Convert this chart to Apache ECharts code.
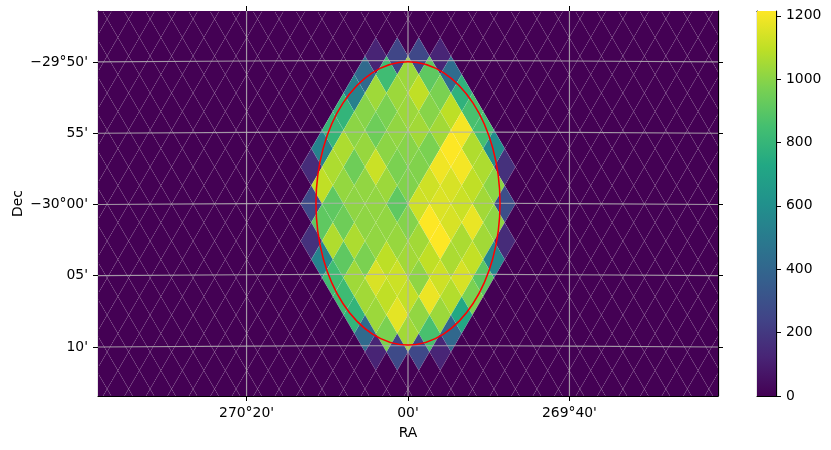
<!DOCTYPE html>
<html><head><meta charset="utf-8">
<style>html,body{margin:0;padding:0;background:#fff}#c{width:831px;height:450px}</style>
<script src="https://cdn.jsdelivr.net/npm/echarts@6/dist/echarts.min.js"></script>
</head><body><div id="c"></div>
<script>
// Sky-map cell values, one list per lattice row (north to south); each list is centred on RA 270°
const row_m8 = [120, 250, 260, 125];
const row_m7 = [420, 835, 1033, 911, 430];
const row_m6 = [530, 1040, 1033, 1100, 972, 778];
const row_m5 = [790, 996, 972, 1033, 996, 1093, 860];
const row_m4 = [800, 1005, 942, 1015, 1045, 1045, 1198, 850];
const row_m3 = [540, 1065, 1025, 1005, 996, 972, 1215, 1070, 590];
const row_m2 = [150, 1065, 945, 1118, 972, 985, 1190, 1198, 1065, 170];
const row_m1 = [1100, 1020, 1015, 1033, 985, 1125, 1142, 1100, 1005];
const row_0  = [270, 911, 1010, 1015, 911, 1125, 1150, 1118, 1045, 290];
const row_p1 = [911, 945, 1010, 1015, 990, 1215, 1142, 1178, 1010];
const row_p2 = [170, 1070, 1065, 1015, 1025, 1045, 1215, 1060, 1045, 150];
const row_p3 = [540, 911, 972, 1093, 1045, 1100, 1060, 1105, 560];
const row_p4 = [835, 1040, 1146, 1120, 1010, 1125, 1142, 905];
const row_p5 = [830, 1045, 1100, 1105, 1182, 1075, 972];
const row_p6 = [790, 1033, 1168, 1015, 1033, 729];
const row_p7 = [420, 972, 1045, 860, 410];
const row_p8 = [120, 270, 260, 125];
const rows = [row_m8,row_m7,row_m6,row_m5,row_m4,row_m3,row_m2,row_m1,row_0,row_p1,row_p2,row_p3,row_p4,row_p5,row_p6,row_p7,row_p8];

const raTicks = [270.3333, 270, 269.6667];
const raLabels = ["270°20'", "00'", "269°40'"];
const decTicks = [-29.8333, -29.9167, -30, -30.0833, -30.1667];
const decLabels = ["−29°50'", "55'", "−30°00'", "05'", "10'"];
const cbTicks = [0, 200, 400, 600, 800, 1000, 1200];
const viridis = ['#440154','#482475','#414487','#355f8d','#2a788e','#21918c','#22a884','#44bf70','#7ad151','#bddf26','#fde725'];

const raRange = [269.36, 270.64];
const decRange = [-30.224, -29.7737];
const cbMax = 1215;
const dRa = 1.331/60, dDec = 1.298/60;   // half-width, half-height of a lattice cell
const raC = 270, decC = -29.9995;
const circle = [270.0, -29.9987, 11.4/60, 9.94/60];  // ra, dec, half-axes
const graticuleRa = [269.36, 269.6667, 270, 270.3333, 270.64];
const graticuleBow = [0, 0.0011, 0.0015, 0.0011, 0];

const cells = [];
const hot = {};
rows.forEach((r, n) => { const k = n - 8;
  r.forEach((v, j) => { hot[(j*2-(r.length-1)) + ',' + k] = v; }); });
for (let k = -11; k <= 11; k++) for (let i = -29; i <= 29; i++) {
  if (Math.abs(i + k) % 2 !== 1) continue;
  const v = hot[i + ',' + k] || 0;
  cells.push([raC - i*dRa, decC - k*dDec, v]);
}

const font = 'DejaVu Sans', fs = 13.9, ink = '#000';
const tick = {show:true, length:5, inside:false, lineStyle:{color:ink,width:1}};
const frame = {show:true, onZero:false, lineStyle:{color:ink,width:1.2}};
const lab = {color:ink, fontFamily:font, fontSize:fs};
const lines = [];
decTicks.forEach(d => lines.push({type:'line', xAxisIndex:0, yAxisIndex:0, silent:true, symbol:'none', smooth:true, z:5,
  lineStyle:{color:'#b4b2b4', width:1.2, opacity:.85},
  data: graticuleRa.map((r,i)=>[r, d + graticuleBow[i]])}));
raTicks.forEach(r => lines.push({type:'line', xAxisIndex:0, yAxisIndex:0, silent:true, symbol:'none', z:5,
  lineStyle:{color:'#b4b2b4', width:1.2, opacity:.85},
  data: [[r, decRange[0]],[r, decRange[1]]]}));

const chart = echarts.init(document.getElementById('c'), null, {renderer:'canvas'});
chart.setOption({
  animation:false, backgroundColor:'#fff',
  grid:[{left:98, top:11, width:620, height:385, outerBoundsMode:'none'},{left:757, top:11, width:19, height:385, outerBoundsMode:'none'}],
  visualMap:{show:false, seriesIndex:0, dimension:2, min:0, max:cbMax, inRange:{color:viridis}},
  xAxis:[
    {type:'value', gridIndex:0, min:raRange[0], max:raRange[1], inverse:true, position:'bottom', name:'RA', nameLocation:'middle', nameGap:30, nameMoveOverlap:false,
     nameTextStyle:lab, axisLine:frame, splitLine:{show:false},
     axisTick:{...tick, customValues:raTicks},
     axisLabel:{...lab, margin:10, customValues:raTicks, formatter:v=>raLabels[raTicks.indexOf(v)]}},
    {type:'value', gridIndex:0, min:raRange[0], max:raRange[1], inverse:true, position:'top', axisLine:frame, splitLine:{show:false},
     axisTick:{...tick, customValues:raTicks}, axisLabel:{show:false}},
    {type:'value', gridIndex:1, min:0, max:1, position:'bottom', axisLine:frame, axisTick:{show:false}, axisLabel:{show:false}, splitLine:{show:false}},
    {type:'value', gridIndex:1, min:0, max:1, position:'top', axisLine:frame, axisTick:{show:false}, axisLabel:{show:false}, splitLine:{show:false}}
  ],
  yAxis:[
    {type:'value', gridIndex:0, min:decRange[0], max:decRange[1], position:'left', name:'Dec', nameLocation:'middle', nameGap:73, nameMoveOverlap:false,
     nameTextStyle:lab, axisLine:frame, splitLine:{show:false},
     axisTick:{...tick, customValues:decTicks},
     axisLabel:{...lab, margin:10, customValues:decTicks, formatter:v=>decLabels[decTicks.indexOf(v)]}},
    {type:'value', gridIndex:0, min:decRange[0], max:decRange[1], position:'right', axisLine:frame, splitLine:{show:false},
     axisTick:{...tick, customValues:decTicks}, axisLabel:{show:false}},
    {type:'value', gridIndex:1, min:0, max:cbMax, position:'left', axisLine:frame, axisTick:{show:false}, axisLabel:{show:false}, splitLine:{show:false}},
    {type:'value', gridIndex:1, min:0, max:cbMax, position:'right', axisLine:frame, splitLine:{show:false},
     axisTick:{...tick, customValues:cbTicks},
     axisLabel:{...lab, margin:10, customValues:cbTicks, formatter:v=>String(v)}}
  ],
  series:[
    {type:'custom', xAxisIndex:0, yAxisIndex:0, clip:true, silent:true, z:2, data:cells, encode:{x:0,y:1},
     renderItem(params, api){
       const x=api.value(0), y=api.value(1);
       const pts=[api.coord([x-dRa,y]),api.coord([x,y+dDec]),api.coord([x+dRa,y]),api.coord([x,y-dDec])];
       return {type:'polygon', shape:{points:pts}, style:{fill:api.visual('color'), stroke:'rgba(255,255,255,0.13)', lineWidth:0.8, lineDash:[1.2,1.2]}};
     }},
    {type:'custom', xAxisIndex:0, yAxisIndex:0, clip:true, silent:true, z:6, data:[circle], encode:{x:0,y:1},
     renderItem(params, api){
       const c=api.coord([api.value(0),api.value(1)]);
       const s=api.size([api.value(2),api.value(3)],[api.value(0),api.value(1)]);
       return {type:'ellipse', shape:{cx:c[0],cy:c[1],rx:Math.abs(s[0]),ry:Math.abs(s[1])}, style:{fill:'none', stroke:'#ff0000', lineWidth:1.5}};
     }},
    {type:'custom', xAxisIndex:2, yAxisIndex:2, clip:true, silent:true, z:2, data:[[0,0,1,cbMax]], encode:{x:[0,2],y:[1,3]},
     renderItem(params, api){
       const a=api.coord([api.value(0),api.value(1)]), b=api.coord([api.value(2),api.value(3)]);
       const stops=viridis.map((c,i)=>({offset:i/(viridis.length-1), color:c}));
       return {type:'rect', shape:{x:a[0],y:b[1],width:b[0]-a[0],height:a[1]-b[1]},
         style:{fill:new echarts.graphic.LinearGradient(0,1,0,0,stops)}};
     }},
    ...lines
  ]
});
</script></body></html>
